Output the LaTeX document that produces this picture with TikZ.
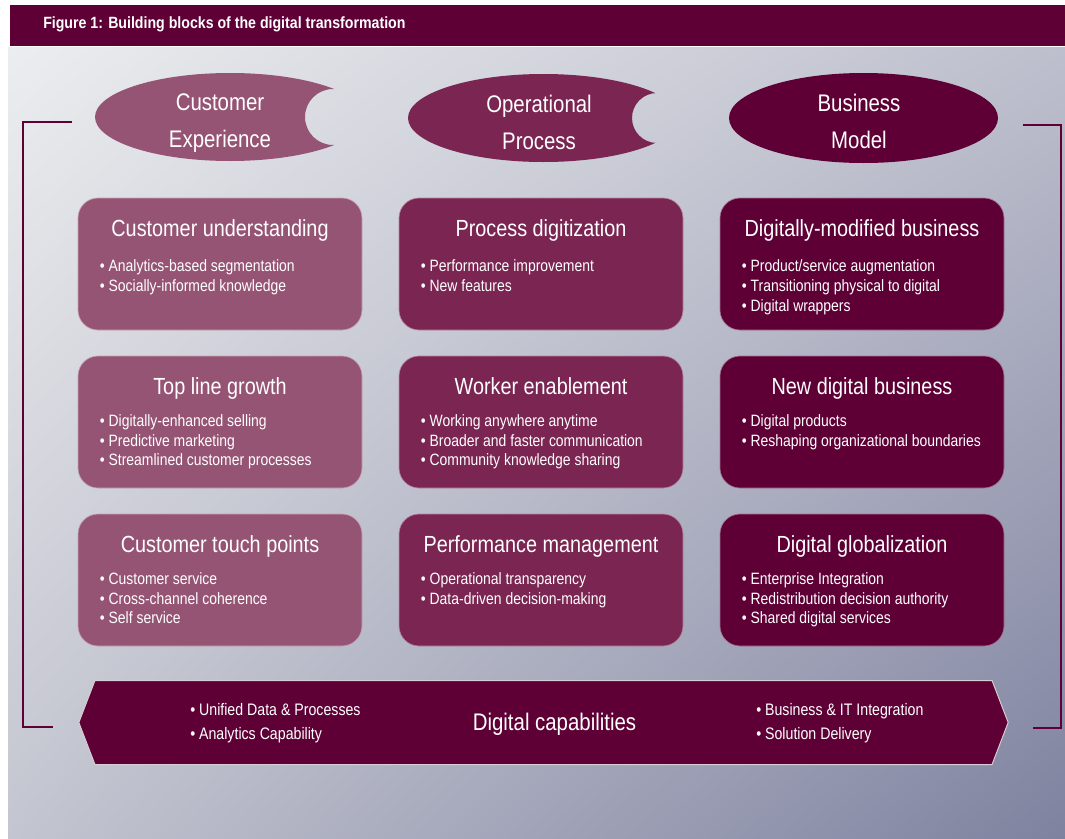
\documentclass[tikz,border=0pt]{standalone}
\usepackage{fontspec}
\setmainfont{Liberation Sans}[FakeStretch=0.85]
\newfontfamily\headfont{Liberation Sans}[FakeStretch=0.87]
\usetikzlibrary{positioning, shapes.symbols, shadings}

\definecolor{wine}{HTML}{5E0036}
\definecolor{plum}{HTML}{7A2552}
\definecolor{mauve}{HTML}{965474}
\definecolor{bgTL}{HTML}{ECEDEF}
\definecolor{bgTR}{HTML}{BDBFCD}
\definecolor{bgBL}{HTML}{C3C5D0}
\definecolor{bgBR}{HTML}{7E829F}
\definecolor{rim}{HTML}{D8CDD2}

\begin{document}
\begin{tikzpicture}
	[x=0.75pt, y=-0.75pt, on grid, node distance=118.5pt and 240.75pt,
	 block/.style={rectangle, rounded corners=15pt, fill=#1, draw=white!45!#1, line width=0.5pt, minimum width=213pt, minimum height=99pt},
	 blocktitle/.style={text=white, font=\fontsize{17.5}{20}\selectfont, anchor=base},
	 bullets/.style={text=white, font=\fontsize{12.3}{14.8}\selectfont, align=left, inner sep=0pt, anchor=north west},
	 lens/.style={text=white, font=\fontsize{18}{27.75}\selectfont, align=center},
	 bracket/.style={draw=wine, line width=1.5pt}]
   \useasboundingbox (0,0) rectangle (1065,839);
   % backdrop and heading
   \shade[upper left=bgTL, upper right=bgTR, lower left=bgBL, lower right=bgBR] (8,47) rectangle (1065,839);
   \fill[wine] (10,5) rectangle (1065,46);
   \node[anchor=west, inner sep=0pt, text=white, font=\headfont\bfseries\fontsize{12.2}{14}\selectfont] (fig) at (43,24) {Figure 1: Building blocks of the digital transformation};

   % the three lenses
   \begin{scope}[even odd rule]
     \clip (0,0) rectangle (334,839);
     \clip (0,0) rectangle (1065,839) (333,117) circle (28);
     \fill[mauve] (230,117) ellipse [x radius=135, y radius=44];
   \end{scope}
   \begin{scope}[even odd rule]
     \clip (0,0) rectangle (1065,839) (657,118) circle (25);
     \fill[plum] (543.5,118) ellipse [x radius=135.5, y radius=44];
   \end{scope}
   \fill[wine] (863.5,118) ellipse [x radius=134.5, y radius=45];
   \node[lens] (ce) at (220,123.5) {Customer\\Experience};
   \node[lens] (op) at (539,122) {Operational\\Process};
   \node[lens] (bm) at (859,121) {Business\\Model};

   % brackets
   \draw[bracket] (72,122) -- (23,122) -- (23,727) -- (53,727);
   \draw[bracket] (1023,125) -- (1061,125) -- (1061,728) -- (1033,728);

   % building blocks
   \node[block=mauve] (cu) at (220,264) {};
   \node[block=plum, right=of cu] (pd) {};
   \node[block=wine, right=of pd] (dm) {};
   \node[block=mauve, below=of cu] (tg) {};
   \node[block=plum, below=of pd] (we) {};
   \node[block=wine, below=of dm] (nd) {};
   \node[block=mauve, below=of tg] (tp) {};
   \node[block=plum, below=of we] (pm) {};
   \node[block=wine, below=of nd] (dg) {};

   \foreach \b/\t in {cu/Customer understanding, pd/Process digitization, dm/Digitally-modified business,
                      tg/Top line growth, we/Worker enablement, nd/New digital business,
                      tp/Customer touch points, pm/Performance management, dg/Digital globalization}
     \node[blocktitle] (\b-t) at ([yshift=-29.25pt]\b.north) {\t};

   \node[bullets] (cu-l) at ([xshift=16.5pt, yshift=-46.5pt]cu.north west) {\textbullet\ Analytics-based segmentation\\\textbullet\ Socially-informed knowledge};
   \node[bullets] (pd-l) at ([xshift=16.5pt, yshift=-46.5pt]pd.north west) {\textbullet\ Performance improvement\\\textbullet\ New features};
   \node[bullets] (dm-l) at ([xshift=16.5pt, yshift=-46.5pt]dm.north west) {\textbullet\ Product/service augmentation\\\textbullet\ Transitioning physical to digital\\\textbullet\ Digital wrappers};
   \node[bullets] (tg-l) at ([xshift=16.5pt, yshift=-44pt]tg.north west) {\textbullet\ Digitally-enhanced selling\\\textbullet\ Predictive marketing\\\textbullet\ Streamlined customer processes};
   \node[bullets] (we-l) at ([xshift=16.5pt, yshift=-44pt]we.north west) {\textbullet\ Working anywhere anytime\\\textbullet\ Broader and faster communication\\\textbullet\ Community knowledge sharing};
   \node[bullets] (nd-l) at ([xshift=16.5pt, yshift=-44pt]nd.north west) {\textbullet\ Digital products\\\textbullet\ Reshaping organizational boundaries};
   \node[bullets] (tp-l) at ([xshift=16.5pt, yshift=-44pt]tp.north west) {\textbullet\ Customer service\\\textbullet\ Cross-channel coherence\\\textbullet\ Self service};
   \node[bullets] (pm-l) at ([xshift=16.5pt, yshift=-44pt]pm.north west) {\textbullet\ Operational transparency\\\textbullet\ Data-driven decision-making};
   \node[bullets] (dg-l) at ([xshift=16.5pt, yshift=-44pt]dg.north west) {\textbullet\ Enterprise Integration\\\textbullet\ Redistribution decision authority\\\textbullet\ Shared digital services};

   % capabilities banner
   \node[signal, signal to=west and east, signal pointer angle=138, fill=wine, draw=rim, line width=0.75pt,
         minimum width=697pt, minimum height=63pt, inner sep=0pt] (dc) at (543.5,722.5) {};
   \node[text=white, font=\fontsize{18}{20}\selectfont] (dc-t) at (554.5,724) {Digital capabilities};
   \node[bullets, anchor=west, font=\fontsize{12.5}{18}\selectfont] (dc-l) at (190,723) {\textbullet\ Unified Data \& Processes\\\textbullet\ Analytics Capability};
   \node[bullets, anchor=west, font=\fontsize{12.5}{18}\selectfont] (dc-r) at (756,723) {\textbullet\ Business \& IT Integration\\\textbullet\ Solution Delivery};
\end{tikzpicture}
\end{document}
